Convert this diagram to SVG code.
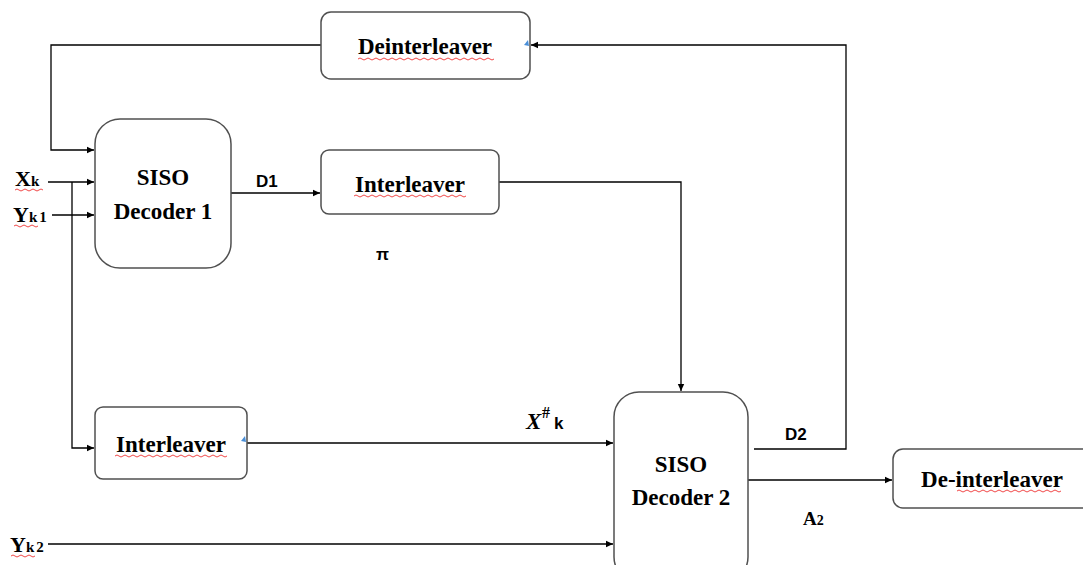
<svg xmlns="http://www.w3.org/2000/svg" width="1083" height="565" viewBox="0 0 1083 565">
<defs>
<marker id="ah" markerWidth="8" markerHeight="8" refX="7" refY="4" orient="auto" markerUnits="userSpaceOnUse">
<path d="M0,0.8 L7,4 L0,7.2 Z" fill="#000"/>
</marker>
<style>
.box{fill:#fff;stroke:#505050;stroke-width:1.5}
.ln{fill:none;stroke:#000;stroke-width:1.3}
.arr{marker-end:url(#ah)}
.bt{font-family:"Liberation Serif","Times New Roman",serif;font-weight:bold;font-size:23px;fill:#000;text-anchor:middle}
.lb{font-family:"Liberation Serif","Times New Roman",serif;font-weight:bold;fill:#000}
.sl{font-family:"Liberation Sans",Arial,sans-serif;font-weight:bold;font-size:17px;fill:#000}
.sq{fill:none;stroke:#e33;stroke-width:0.9}
.tri{fill:#4a8fd8}
</style>
</defs>
<rect width="1083" height="565" fill="#fff"/>

<g id="connectors">
<path class="ln arr" d="M321,45 H51 V150 H94"/>
<path class="ln arr" d="M48,182 H94"/>
<path class="ln arr" d="M52,215 H94"/>
<path class="ln arr" d="M72,182 V448 H94"/>
<path class="ln arr" d="M231,193 H320"/>
<path class="ln arr" d="M499,182 H681 V391"/>
<path class="ln arr" d="M247,443 H613"/>
<path class="ln arr" d="M48,544 H613"/>
<path class="ln arr" d="M754,449 H846 V45 H531"/>
<path class="ln arr" d="M748,480 H892"/>
</g>

<g id="deinterleaver">
<rect class="box" x="321" y="12" width="209" height="67" rx="10"/>
<text class="bt" x="425" y="54">Deinterleaver</text>
<path class="sq" d="M358,59 q2,-2 4,0 t4,0 t4,0 t4,0 t4,0 t4,0 t4,0 t4,0 t4,0 t4,0 t4,0 t4,0 t4,0 t4,0 t4,0 t4,0 t4,0 t4,0 t4,0 t4,0 t4,0 t4,0 t4,0 t4,0 t4,0 t4,0 t4,0 t4,0 t4,0 t4,0 t4,0 t4,0 t4,0 t4,0"/>
<path class="tri" d="M528,40 L529,46 L524,45 Z"/>
</g>

<g id="siso1">
<rect class="box" x="95" y="119" width="136" height="149" rx="25"/>
<text class="bt" x="163" y="185">SISO</text>
<text class="bt" x="163" y="219">Decoder 1</text>
</g>

<g id="interleaver1">
<rect class="box" x="321" y="150" width="178" height="64" rx="8"/>
<text class="bt" x="410" y="192">Interleaver</text>
<path class="sq" d="M354,196 q2,-2 4,0 t4,0 t4,0 t4,0 t4,0 t4,0 t4,0 t4,0 t4,0 t4,0 t4,0 t4,0 t4,0 t4,0 t4,0 t4,0 t4,0 t4,0 t4,0 t4,0 t4,0 t4,0 t4,0 t4,0 t4,0 t4,0 t4,0 t4,0"/>
</g>

<g id="interleaver2">
<rect class="box" x="95" y="407" width="152" height="72" rx="8"/>
<text class="bt" x="171" y="452">Interleaver</text>
<path class="sq" d="M115,456 q2,-2 4,0 t4,0 t4,0 t4,0 t4,0 t4,0 t4,0 t4,0 t4,0 t4,0 t4,0 t4,0 t4,0 t4,0 t4,0 t4,0 t4,0 t4,0 t4,0 t4,0 t4,0 t4,0 t4,0 t4,0 t4,0 t4,0 t4,0 t4,0"/>
<path class="tri" d="M245,436 L246,442 L241,441 Z"/>
</g>

<g id="siso2">
<rect class="box" x="614" y="392" width="134" height="190" rx="25"/>
<text class="bt" x="681" y="472">SISO</text>
<text class="bt" x="681" y="505">Decoder 2</text>
</g>

<g id="deinterleaver2">
<rect class="box" x="893" y="449" width="210" height="59" rx="10"/>
<text class="bt" x="992" y="487">De-interleaver</text>
<path class="sq" d="M957,491 q2,-2 4,0 t4,0 t4,0 t4,0 t4,0 t4,0 t4,0 t4,0 t4,0 t4,0 t4,0 t4,0 t4,0 t4,0 t4,0 t4,0 t4,0 t4,0 t4,0 t4,0 t4,0 t4,0 t4,0 t4,0 t4,0 t4,0"/>
</g>

<g id="labels">
<text class="lb" x="15" y="186" font-size="22">X<tspan font-size="15">k</tspan></text>
<path class="sq" d="M15,190 q2,-2 4,0 t4,0 t4,0 t4,0 t4,0 t4,0 t4,0"/>
<text class="lb" x="13" y="222" font-size="22">Y<tspan font-size="15">k</tspan><tspan font-size="15" dx="2">1</tspan></text>
<path class="sq" d="M14,226 q2,-2 4,0 t4,0 t4,0 t4,0 t4,0 t4,0"/>
<text class="lb" x="10" y="552" font-size="22">Y<tspan font-size="15">k</tspan><tspan font-size="15" dx="2">2</tspan></text>
<path class="sq" d="M11,556 q2,-2 4,0 t4,0 t4,0 t4,0 t4,0 t4,0"/>
<text class="sl" x="256" y="187">D1</text>
<text class="sl" x="376" y="260" font-size="20">π</text>
<text x="526" y="429" class="lb" font-size="23" font-style="italic">X</text>
<text x="542" y="418" class="lb" font-size="16">#</text>
<text x="554" y="429" class="sl" font-size="15">k</text>
<text class="sl" x="785" y="440">D2</text>
<text class="lb" x="803" y="525" font-size="19">A<tspan font-size="14">2</tspan></text>
</g>
</svg>
